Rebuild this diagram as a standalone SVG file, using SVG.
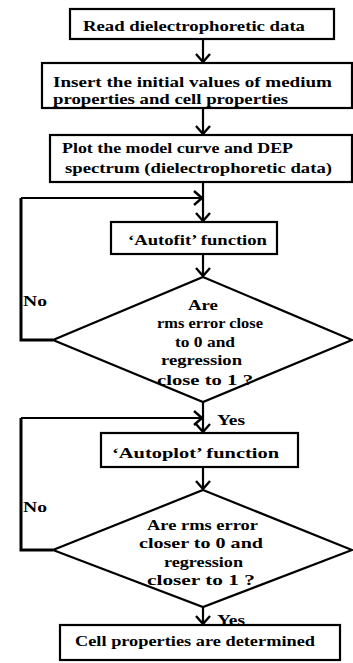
<svg xmlns="http://www.w3.org/2000/svg" width="353" height="663" viewBox="0 0 353 663">
<style>
.box{fill:#fff;stroke:#000;stroke-width:2.2}
text{font-family:'Liberation Serif','Times New Roman',Times,'DejaVu Serif',serif;font-weight:bold;font-size:15.5px;fill:#000}
.c{text-anchor:middle}
.ln{fill:none;stroke:#000;stroke-width:2.2}
.lp{fill:none;stroke:#000;stroke-width:3}
</style>
<defs>
<marker id="ah" markerUnits="userSpaceOnUse" viewBox="-10 -9 12 18" refX="0" refY="0" markerWidth="12" markerHeight="18" orient="auto" overflow="visible">
<path d="M-8,-7 L0,0 L-8,7" fill="none" stroke="#000" stroke-width="2.4"/>
</marker>
</defs>
<rect width="353" height="663" fill="#fff"/>
<g id="connectors">
<line class="ln" x1="203" y1="39" x2="203" y2="62" marker-end="url(#ah)"/>
<line class="ln" x1="203" y1="108" x2="203" y2="134" marker-end="url(#ah)"/>
<line class="ln" x1="203" y1="182" x2="203" y2="221" marker-end="url(#ah)"/>
<line class="ln" x1="203" y1="254" x2="203" y2="276" marker-end="url(#ah)"/>
<path class="lp" d="M53,340 H21 V198"/>
<line class="ln" x1="21" y1="198" x2="202" y2="198" marker-end="url(#ah)"/>
<line class="ln" x1="203" y1="402" x2="203" y2="432" marker-end="url(#ah)"/>
<path class="lp" d="M53,550 H21 V418"/>
<line class="ln" x1="21" y1="418" x2="202" y2="418" marker-end="url(#ah)"/>
<line class="ln" x1="203" y1="467" x2="203" y2="489" marker-end="url(#ah)"/>
<line class="ln" x1="203" y1="607" x2="203" y2="624" marker-end="url(#ah)"/>
<text x="23" y="306" textLength="24" lengthAdjust="spacingAndGlyphs">No</text>
<text x="217" y="425" textLength="28" lengthAdjust="spacingAndGlyphs">Yes</text>
<text x="23" y="512" textLength="24" lengthAdjust="spacingAndGlyphs">No</text>
<text x="217" y="625" textLength="28" lengthAdjust="spacingAndGlyphs">Yes</text>
</g>
<g id="read">
<rect class="box" x="70" y="9" width="264" height="30"/>
<text x="83" y="31" textLength="222" lengthAdjust="spacingAndGlyphs">Read dielectrophoretic data</text>
</g>
<g id="insert">
<rect class="box" x="42" y="63" width="310" height="45"/>
<text x="53" y="87" textLength="279" lengthAdjust="spacingAndGlyphs">Insert the initial values of medium</text>
<text x="53" y="104" textLength="235" lengthAdjust="spacingAndGlyphs">properties and cell properties</text>
</g>
<g id="plot">
<rect class="box" x="50" y="135" width="302" height="47"/>
<text x="62" y="153" textLength="231" lengthAdjust="spacingAndGlyphs">Plot the model curve and DEP</text>
<text x="65" y="173" textLength="267" lengthAdjust="spacingAndGlyphs">spectrum (dielectrophoretic data)</text>
</g>
<g id="autofit">
<rect class="box" x="111" y="222" width="166" height="32"/>
<text x="128" y="245" textLength="139" lengthAdjust="spacingAndGlyphs">‘Autofit’ function</text>
</g>
<g id="decision1">
<polygon class="box" points="203,277 352,340 203,402 53,340"/>
<text x="188" y="310" textLength="30" lengthAdjust="spacingAndGlyphs">Are</text>
<text x="157" y="328" textLength="106" lengthAdjust="spacingAndGlyphs">rms error close</text>
<text x="175" y="347" textLength="60" lengthAdjust="spacingAndGlyphs">to 0 and</text>
<text x="161" y="365" textLength="81" lengthAdjust="spacingAndGlyphs">regression</text>
<text x="157" y="385" textLength="96" lengthAdjust="spacingAndGlyphs">close to 1 ?</text>
</g>
<g id="autoplot">
<rect class="box" x="101" y="433" width="197" height="34"/>
<text x="112" y="458" textLength="167" lengthAdjust="spacingAndGlyphs">‘Autoplot’ function</text>
</g>
<g id="decision2">
<polygon class="box" points="203,490 352,550 203,607 53,550"/>
<text x="147" y="530" textLength="111" lengthAdjust="spacingAndGlyphs">Are rms error</text>
<text x="139" y="548" textLength="124" lengthAdjust="spacingAndGlyphs">closer to 0 and</text>
<text x="164" y="567" textLength="79" lengthAdjust="spacingAndGlyphs">regression</text>
<text x="147" y="585" textLength="108" lengthAdjust="spacingAndGlyphs">closer to 1 ?</text>
</g>
<g id="result">
<rect class="box" x="60" y="625" width="280" height="35"/>
<text x="75" y="646" textLength="240" lengthAdjust="spacingAndGlyphs">Cell properties are determined</text>
</g>
</svg>
